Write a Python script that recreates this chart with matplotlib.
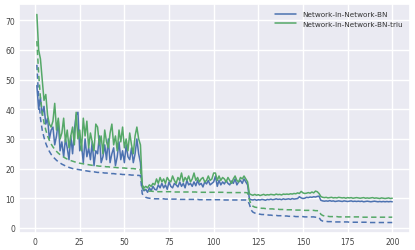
import numpy as np
import matplotlib
matplotlib.use("Agg")
import matplotlib.pyplot as plt
import seaborn as sns

# epochs 1..200
epochs = list(range(1, 201))

# Network-In-Network-BN, test error (solid)
nin_test = [
    48, 40, 44, 38, 41, 35, 37, 30, 33, 34, 28, 31, 36, 26, 29, 24, 30, 27, 23, 31,
    25, 33, 38, 39, 26, 28, 22, 30, 24, 27, 23, 29, 21, 26, 25, 31, 22, 24, 28, 23,
    30, 22, 25, 27, 21, 24, 29, 23, 26, 22, 28, 24, 23, 27, 22, 25, 30, 25, 22, 13.5,
    12.5, 13, 12, 13.5, 12.5, 14, 13, 12.8, 14.5, 13.5, 15, 13.5, 14.5, 13, 15.5, 14, 13.5, 15, 14.5, 13.8,
    15.5, 14, 15, 13.5, 16, 14.5, 15, 14, 15.5, 14.2, 16, 14.5, 15, 13.8, 15.5, 14.8, 16, 14.5, 15, 15.5,
    17.5, 14, 16, 14.5, 15.5, 14.8, 16, 15, 14.5, 15.8, 15, 16.5, 14.5, 15.5, 16, 15, 16.5, 15.5, 14.5, 9.8,
    9.5, 9.4, 9.6, 9.3, 9.5, 9.4, 9.6, 9.5, 9.3, 9.6, 9.5, 9.7, 9.5, 9.6, 9.8, 9.6, 9.7, 9.5, 9.8, 9.6,
    9.7, 9.8, 9.6, 9.9, 9.7, 9.8, 9.9, 10.5, 10.1, 9.9, 10.0, 10.3, 10.2, 10.4, 10.3, 10.5, 10.4, 10.6, 10.7, 9.3,
    9.1, 9.0, 9.1, 9.0, 9.2, 9.0, 9.1, 8.9, 9.0, 9.1, 9.0, 8.9, 9.1, 9.0, 8.9, 9.0, 9.1, 8.9, 9.0, 8.9,
    9.0, 8.9, 9.0, 8.8, 8.9, 9.0, 8.9, 8.8, 8.9, 9.0, 8.9, 8.8, 8.9, 8.8, 8.9, 8.8, 8.9, 8.8, 8.9, 8.8,
]

# Network-In-Network-BN, train error (dashed)
nin_train = [
    55, 44, 37, 33, 30.5, 28.5, 27, 25.8, 24.8, 24, 23.4, 22.8, 22.3, 21.9, 21.5, 21.2, 20.9, 20.6, 20.4, 20.2,
    20.0, 19.9, 19.8, 19.7, 19.6, 19.5, 19.4, 19.3, 19.2, 19.1, 19.0, 18.9, 18.9, 18.8, 18.7, 18.7, 18.6, 18.6, 18.5, 18.5,
    18.4, 18.4, 18.3, 18.3, 18.2, 18.2, 18.1, 18.1, 18.0, 18.0, 17.9, 17.9, 17.9, 17.8, 17.8, 17.8, 17.7, 17.7, 17.6, 11.5,
    10.8, 10.3, 10.1, 10.0, 9.9, 9.9, 9.8, 9.8, 9.8, 9.8, 9.8, 9.8, 9.7, 9.7, 9.7, 9.7, 9.7, 9.7, 9.7, 9.6,
    9.6, 9.6, 9.6, 9.6, 9.6, 9.6, 9.6, 9.6, 9.6, 9.6, 9.6, 9.5, 9.5, 9.5, 9.5, 9.5, 9.5, 9.5, 9.5, 9.5,
    9.5, 9.5, 9.5, 9.5, 9.5, 9.4, 9.4, 9.4, 9.4, 9.4, 9.4, 9.4, 9.4, 9.4, 9.4, 9.4, 9.4, 9.4, 9.3, 8.0,
    6.0, 5.3, 5.0, 4.8, 4.7, 4.6, 4.5, 4.5, 4.4, 4.4, 4.3, 4.3, 4.2, 4.2, 4.2, 4.1, 4.1, 4.1, 4.0, 4.0,
    4.0, 3.9, 3.9, 3.9, 3.9, 3.8, 3.8, 3.8, 3.8, 3.8, 3.7, 3.7, 3.7, 3.7, 3.7, 3.7, 3.6, 3.6, 3.5, 2.6,
    2.3, 2.2, 2.2, 2.1, 2.1, 2.1, 2.1, 2.0, 2.0, 2.0, 2.0, 2.0, 2.0, 2.0, 2.0, 1.9, 1.9, 1.9, 1.9, 1.9,
    1.9, 1.9, 1.9, 1.9, 1.9, 1.9, 1.8, 1.8, 1.8, 1.8, 1.8, 1.8, 1.8, 1.8, 1.8, 1.8, 1.8, 1.8, 1.8, 1.8,
]

# Network-In-Network-BN-triu, test error (solid)
triu_test = [
    72, 60, 57, 50, 43, 45, 38, 35, 34, 36, 42, 33, 37, 30, 32, 37, 29, 33, 27, 31,
    34, 28, 39, 30, 33, 26, 37, 31, 36, 27, 32, 29, 26, 35, 34, 28, 31, 25, 33, 29,
    27, 32, 35, 28, 31, 26, 33, 29, 34, 27, 30, 26, 32, 28, 25, 31, 34, 30, 28, 14.5,
    13.5, 14, 13.5, 14.5, 14, 15, 14.5, 16.5, 15, 17, 15.5, 16.5, 15, 17, 16, 15.5, 17.5, 16, 15, 17,
    16, 18.5, 15.5, 17, 16, 17.5, 15.5, 16.5, 18.5, 16, 17, 15.5, 16.5, 17, 15.5, 16, 17.5, 16, 16.5, 18.5,
    18.5, 16, 17.5, 16, 17, 16.5, 15.5, 17, 16, 15, 16.5, 17.5, 16, 15.5, 17, 16.5, 17.5, 16.5, 15.5, 11.5,
    11.2, 11.0, 11.3, 11.0, 11.2, 10.9, 11.1, 11.3, 11.0, 11.2, 11.1, 11.3, 11.2, 11.1, 11.4, 11.2, 11.3, 11.1, 11.4, 11.3,
    11.4, 11.3, 11.5, 11.4, 11.6, 11.5, 11.8, 11.6, 12.3, 11.8, 11.6, 11.7, 11.9, 11.7, 12.1, 11.8, 12.4, 12.2, 11.6, 10.6,
    10.3, 10.2, 10.3, 10.1, 10.2, 10.3, 10.1, 10.2, 10.1, 10.3, 10.2, 10.1, 10.2, 10.0, 10.2, 10.1, 10.2, 10.0, 10.1, 10.2,
    10.1, 10.0, 10.1, 10.2, 10.0, 10.1, 10.0, 10.1, 10.2, 10.0, 10.1, 10.0, 9.9, 10.1, 10.0, 9.9, 10.0, 10.1, 9.9, 10.0,
]

# Network-In-Network-BN-triu, train error (dashed)
triu_train = [
    63, 52, 44, 39, 35.5, 33, 31, 29.5, 28.3, 27.3, 26.5, 25.8, 25.2, 24.7, 24.3, 23.9, 23.5, 23.2, 22.9, 22.7,
    22.5, 22.3, 22.1, 22.0, 21.8, 21.7, 21.6, 21.5, 21.4, 21.3, 21.2, 21.1, 21.0, 21.0, 20.9, 20.8, 20.8, 20.7, 20.7, 20.6,
    20.6, 20.5, 20.5, 20.4, 20.4, 20.3, 20.3, 20.2, 20.2, 20.2, 20.1, 20.1, 20.0, 20.0, 20.0, 19.9, 19.9, 19.8, 19.6, 14.0,
    13.0, 12.7, 12.5, 12.4, 12.4, 12.3, 12.3, 12.3, 12.2, 12.2, 12.2, 12.2, 12.2, 12.2, 12.2, 12.2, 12.1, 12.1, 12.1, 12.1,
    12.1, 12.1, 12.1, 12.1, 12.1, 12.1, 12.1, 12.1, 12.1, 12.1, 12.0, 12.0, 12.0, 12.0, 12.0, 12.0, 12.0, 12.0, 12.0, 12.0,
    12.0, 12.0, 12.0, 12.0, 12.0, 12.0, 11.9, 11.9, 11.9, 11.9, 11.9, 11.9, 11.9, 11.9, 11.9, 11.9, 11.9, 11.9, 11.8, 9.5,
    7.8, 7.3, 7.0, 6.9, 6.8, 6.7, 6.6, 6.6, 6.5, 6.5, 6.4, 6.4, 6.4, 6.3, 6.3, 6.3, 6.2, 6.2, 6.2, 6.2,
    6.1, 6.1, 6.1, 6.1, 6.0, 6.0, 6.0, 6.0, 6.0, 6.0, 5.9, 5.9, 5.9, 5.9, 5.9, 5.9, 5.8, 5.8, 5.7, 4.6,
    4.2, 4.0, 3.9, 3.9, 3.8, 3.8, 3.8, 3.8, 3.8, 3.7, 3.7, 3.7, 3.7, 3.7, 3.7, 3.7, 3.7, 3.7, 3.7, 3.7,
    3.7, 3.7, 3.6, 3.6, 3.6, 3.6, 3.6, 3.6, 3.6, 3.6, 3.6, 3.6, 3.6, 3.6, 3.6, 3.6, 3.6, 3.6, 3.6, 3.6,
]

sns.set_theme(style="darkgrid")
plt.rcParams['font.family'] = ['DejaVu Sans']

blue = "#4C72B0"
green = "#55A868"

fig = plt.figure(figsize=(4.15, 2.51), dpi=100)
ax = fig.add_axes([0.046, 0.068, 0.942, 0.912])

ax.plot(epochs, nin_test, color=blue, lw=1.1, label="Network-In-Network-BN")
ax.plot(epochs, triu_test, color=green, lw=1.1, label="Network-In-Network-BN-triu")
ax.plot(epochs, nin_train, color=blue, lw=1.1, ls="--", dashes=(3.5, 2.2))
ax.plot(epochs, triu_train, color=green, lw=1.1, ls="--", dashes=(3.5, 2.2))

ax.set_xticks([0, 25, 50, 75, 100, 125, 150, 175, 200])
ax.set_yticks([0, 10, 20, 30, 40, 50, 60, 70])
ax.tick_params(labelsize=5.5, length=0, pad=3, colors="#444444")
ax.grid(True, color="white", lw=1.0)

leg = ax.legend(loc="upper right", fontsize=5.2, frameon=False,
                handlelength=3.0, borderaxespad=0.6, labelspacing=0.5)
for t in leg.get_texts():
    t.set_color("#333333")

fig.savefig("out.png", dpi=100)
